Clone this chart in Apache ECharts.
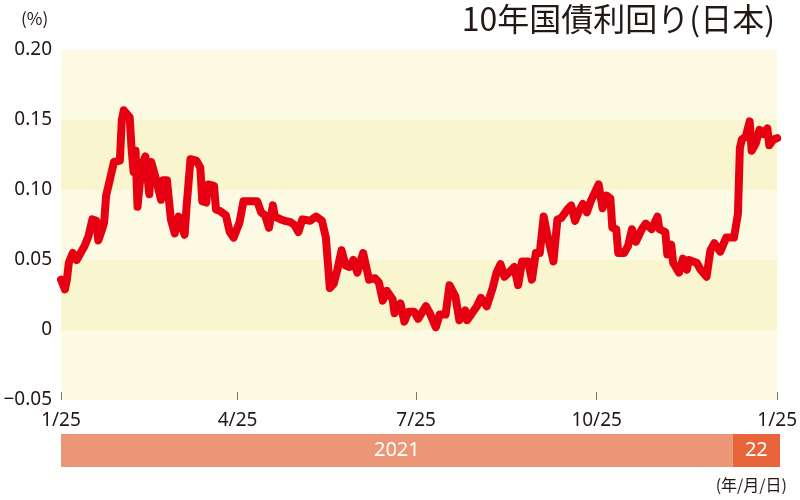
<!DOCTYPE html>
<html>
<head>
<meta charset="utf-8">
<script src="https://cdn.jsdelivr.net/npm/echarts@6/dist/echarts.min.js"></script>
<style>
html,body{margin:0;padding:0;background:#fff;}
#chart{width:800px;height:500px;}
</style>
</head>
<body>
<div id="chart"></div>
<script>
// ---- data ----
const dates = [
'2021-01-25','2021-01-27','2021-01-28','2021-01-29','2021-01-31','2021-02-02','2021-02-04','2021-02-06','2021-02-08','2021-02-10',
'2021-02-12','2021-02-13','2021-02-15','2021-02-16','2021-02-17','2021-02-18','2021-02-19','2021-02-21','2021-02-24','2021-02-25',
'2021-02-26','2021-03-01','2021-03-02','2021-03-03','2021-03-04','2021-03-05','2021-03-07','2021-03-09','2021-03-11','2021-03-12',
'2021-03-14','2021-03-17','2021-03-18','2021-03-20','2021-03-22','2021-03-24','2021-03-26','2021-03-27','2021-03-29','2021-03-30',
'2021-04-01','2021-04-04','2021-04-06','2021-04-07','2021-04-09','2021-04-10','2021-04-13','2021-04-14','2021-04-16','2021-04-19',
'2021-04-21','2021-04-23','2021-04-26','2021-04-28','2021-05-01','2021-05-05','2021-05-07','2021-05-09','2021-05-11','2021-05-13',
'2021-05-14','2021-05-17','2021-05-19','2021-05-22','2021-05-24','2021-05-26','2021-05-28','2021-06-01','2021-06-04','2021-06-07',
'2021-06-09','2021-06-11','2021-06-13','2021-06-15','2021-06-17','2021-06-19','2021-06-21','2021-06-23','2021-06-25','2021-06-28',
'2021-07-01','2021-07-04','2021-07-06','2021-07-08','2021-07-10','2021-07-13','2021-07-14','2021-07-17','2021-07-19','2021-07-21',
'2021-07-24','2021-07-26','2021-07-30','2021-08-01','2021-08-04','2021-08-06','2021-08-09','2021-08-11','2021-08-14','2021-08-16',
'2021-08-19','2021-08-20','2021-08-23','2021-08-25','2021-08-27','2021-08-30','2021-09-02','2021-09-04','2021-09-06','2021-09-08',
'2021-09-11','2021-09-13','2021-09-15','2021-09-17','2021-09-20','2021-09-22','2021-09-23','2021-09-24','2021-09-26','2021-09-28',
'2021-09-30','2021-10-03','2021-10-05','2021-10-07','2021-10-10','2021-10-12','2021-10-14','2021-10-16','2021-10-18','2021-10-20',
'2021-10-22','2021-10-26','2021-10-28','2021-10-30','2021-11-01','2021-11-02','2021-11-04','2021-11-05','2021-11-08','2021-11-10',
'2021-11-12','2021-11-14','2021-11-17','2021-11-19','2021-11-22','2021-11-25','2021-11-26','2021-11-29','2021-11-30','2021-12-02',
'2021-12-03','2021-12-06','2021-12-08','2021-12-10','2021-12-11','2021-12-15','2021-12-17','2021-12-20','2021-12-22','2021-12-24',
'2021-12-27','2021-12-30','2022-01-03','2022-01-05','2022-01-06','2022-01-07','2022-01-09','2022-01-11','2022-01-12','2022-01-14',
'2022-01-16','2022-01-18','2022-01-20','2022-01-21','2022-01-23','2022-01-25'
];
const yields = [
0.036,0.029,0.036,0.048,0.055,0.050,0.055,0.060,0.067,0.079,
0.078,0.064,0.072,0.077,0.096,0.097,0.108,0.120,0.121,0.150,
0.157,0.152,0.129,0.113,0.128,0.088,0.117,0.124,0.097,0.120,
0.110,0.093,0.107,0.107,0.079,0.069,0.081,0.077,0.068,0.088,
0.122,0.121,0.116,0.092,0.091,0.104,0.103,0.086,0.085,0.082,
0.070,0.066,0.077,0.092,0.092,0.092,0.084,0.082,0.073,0.089,
0.081,0.079,0.078,0.077,0.075,0.070,0.079,0.078,0.081,0.078,
0.066,0.030,0.033,0.044,0.057,0.046,0.045,0.050,0.041,0.055,
0.036,0.037,0.034,0.021,0.028,0.022,0.012,0.019,0.006,0.013,
0.013,0.008,0.017,0.012,0.002,0.011,0.011,0.032,0.024,0.007,
0.014,0.007,0.013,0.017,0.023,0.017,0.030,0.041,0.047,0.038,
0.042,0.045,0.032,0.049,0.049,0.036,0.035,0.055,0.055,0.081,
0.067,0.049,0.079,0.080,0.086,0.089,0.078,0.085,0.090,0.084,
0.092,0.104,0.087,0.096,0.094,0.073,0.072,0.055,0.055,0.060,
0.072,0.063,0.072,0.076,0.072,0.081,0.072,0.070,0.054,0.061,
0.048,0.041,0.051,0.043,0.050,0.048,0.043,0.038,0.057,0.062,
0.056,0.066,0.066,0.083,0.130,0.136,0.138,0.149,0.128,0.133,
0.143,0.140,0.144,0.132,0.136,0.137
];
const tickDates = ['2021-01-25','2021-04-25','2021-07-25','2021-10-25','2022-01-25'];
const yTicks = [-0.05, 0, 0.05, 0.10, 0.15, 0.20];
const yearStarts = ['2021-01-25','2022-01-01'];
const yearEnds = ['2022-01-01','2022-01-25'];
const yearLabels = ['2021','22'];
const titleText = '10年国債利回り(日本)';
const unitText = '(%)';
const dateUnitText = '(年/月/日)';

// ---- build ----
const toTs = s => { const p = s.split('-').map(Number); return new Date(p[0], p[1]-1, p[2]).getTime(); };
const lineData = dates.map((d, i) => [toTs(d), yields[i]]);
const xMin = toTs(tickDates[0]);
const xMax = toTs(tickDates[tickDates.length-1]);
const tickTs = tickDates.map(toTs);
const yearData = yearStarts.map((s, i) => [toTs(s), toTs(yearEnds[i]), i]);
const yearColors = ['#ea9677', '#e8643a'];
const numFont = "'Liberation Sans Narrow','Noto Sans',sans-serif";
const cjkFont = "'Noto Sans CJK JP',sans-serif";

const chart = echarts.init(document.getElementById('chart'), null, {renderer: 'canvas'});
chart.setOption({
  animation: false,
  backgroundColor: '#ffffff',
  title: {
    text: titleText,
    right: 20, top: -2,
    textStyle: {fontFamily: cjkFont, fontSize: 32, fontWeight: 'normal', color: '#231815'}
  },
  graphic: [
    {type: 'text', left: 21, top: 10, style: {text: unitText, font: "17px " + cjkFont, fill: '#231815'}},
    {type: 'text', right: 13, top: 477, style: {text: dateUnitText, font: "16px " + cjkFont, fill: '#231815'}}
  ],
  grid: [
    {left: 61, right: 20, top: 50, bottom: 100, containLabel: false},
    {left: 61, right: 20, top: 434, height: 33, containLabel: false}
  ],
  xAxis: [
    {
      type: 'value', gridIndex: 0, min: xMin, max: xMax, scale: true,
      axisLine: {show: false, onZero: false},
      splitLine: {show: false},
      axisTick: {show: true, inside: true, length: 8, customValues: tickTs, lineStyle: {color: '#777', width: 1}},
      axisLabel: {
        customValues: tickTs, showMinLabel: true, showMaxLabel: true, hideOverlap: false,
        margin: 11, fontSize: 19, fontFamily: numFont, color: '#231815',
        formatter: v => { const d = new Date(v); return (d.getMonth()+1) + '/' + d.getDate(); }
      }
    },
    {type: 'value', gridIndex: 1, min: xMin, max: xMax, scale: true, show: false}
  ],
  yAxis: [
    {
      type: 'value', gridIndex: 0, min: yTicks[0], max: yTicks[yTicks.length-1], interval: 0.05,
      axisLine: {show: false}, axisTick: {show: false},
      splitLine: {show: false},
      splitArea: {show: true, areaStyle: {color: ['#fcfae2', '#f9f5cf']}},
      axisLabel: {
        margin: 9, fontSize: 19, fontFamily: numFont, color: '#231815',
        formatter: v => Math.abs(v) < 1e-9 ? '0' : (v < 0 ? '\u2212' + Math.abs(v).toFixed(2) : v.toFixed(2))
      }
    },
    {type: 'value', gridIndex: 1, min: 0, max: 1, show: false}
  ],
  series: [
    {
      type: 'line', xAxisIndex: 0, yAxisIndex: 0,
      data: lineData, showSymbol: false, symbol: 'none',
      lineStyle: {color: '#e60012', width: 8, join: 'round', cap: 'round'},
      z: 5
    },
    {
      type: 'custom', xAxisIndex: 1, yAxisIndex: 1,
      data: yearData,
      renderItem: (params, api) => {
        const p0 = api.coord([api.value(0), 1]);
        const p1 = api.coord([api.value(1), 0]);
        const idx = api.value(2);
        return {
          type: 'rect',
          shape: {x: p0[0], y: p0[1], width: p1[0]-p0[0], height: p1[1]-p0[1]},
          style: {fill: yearColors[idx]},
          textContent: {style: {text: yearLabels[idx], fill: '#ffffff', font: "20px " + numFont}},
          textConfig: {position: 'inside'}
        };
      }
    }
  ]
});
</script>
</body>
</html>
